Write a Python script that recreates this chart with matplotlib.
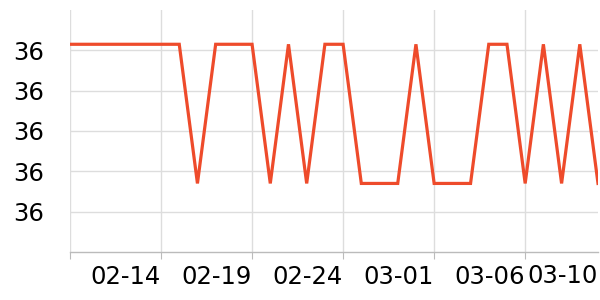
import numpy as np
import matplotlib
matplotlib.use("Agg")
from matplotlib import pyplot as plt
from matplotlib import transforms

# 日付ラベル (02-09 .. 03-10)
dates = ['02-09', '02-10', '02-11', '02-12', '02-13', '02-14', '02-15', '02-16',
         '02-17', '02-18', '02-19', '02-20', '02-21', '02-22', '02-23', '02-24',
         '02-25', '02-26', '02-27', '02-28', '03-01', '03-02', '03-03', '03-04',
         '03-05', '03-06', '03-07', '03-08', '03-09', '03-10']
# 体温の値
temps = [36.515, 36.515, 36.515, 36.515, 36.515, 36.515, 36.515, 36.17, 36.515, 36.515,
         36.515, 36.17, 36.515, 36.17, 36.515, 36.515, 36.17, 36.17, 36.17, 36.515,
         36.17, 36.17, 36.17, 36.515, 36.515, 36.17, 36.515, 36.17, 36.515, 36.17]
tick_days = [0, 5, 10, 15, 20, 25]
y_ticks = [36.1, 36.2, 36.3, 36.4, 36.5]

x = np.arange(len(dates))

fig = plt.figure(figsize=(6, 3), dpi=100)
ax = fig.add_axes([70 / 600, 1 - 252 / 300, 528 / 600, 242 / 300])

ax.plot(x, temps, color='#ee4b2b', lw=2.3, solid_joinstyle='miter')

ax.set_xlim(0, len(dates) - 1)
ax.set_ylim(36.0, 36.6)

# グリッド
ax.set_yticks(y_ticks)
ax.set_yticklabels(['%d' % v for v in y_ticks])
for v in y_ticks:
    ax.axhline(v, color='#dddddd', lw=1, zorder=0)
for d in tick_days:
    ax.axvline(d, color='#dddddd', lw=1, zorder=0)

# 最初のラベルは表示しない
ax.set_xticks(tick_days)
ax.set_xticklabels([''] + [dates[d] for d in tick_days[1:]], ha='right')

# 最後の日付ラベル（目盛なし）
tr = transforms.offset_copy(ax.transData, fig=fig, x=0, y=-9, units='points')
ax.text(x[-1], 36.0, dates[-1], transform=tr, ha='right', va='top',
        fontsize=17.5, color='black')

for s in ['top', 'right', 'left']:
    ax.spines[s].set_visible(False)
ax.spines['bottom'].set_color('#bbbbbb')
ax.spines['bottom'].set_linewidth(1)

ax.tick_params(axis='y', length=0, pad=19, labelsize=17.5, labelcolor='black')
ax.tick_params(axis='x', length=5, color='#bbbbbb', pad=4, labelsize=17.5, labelcolor='black')

fig.savefig('out.png', dpi=100)
